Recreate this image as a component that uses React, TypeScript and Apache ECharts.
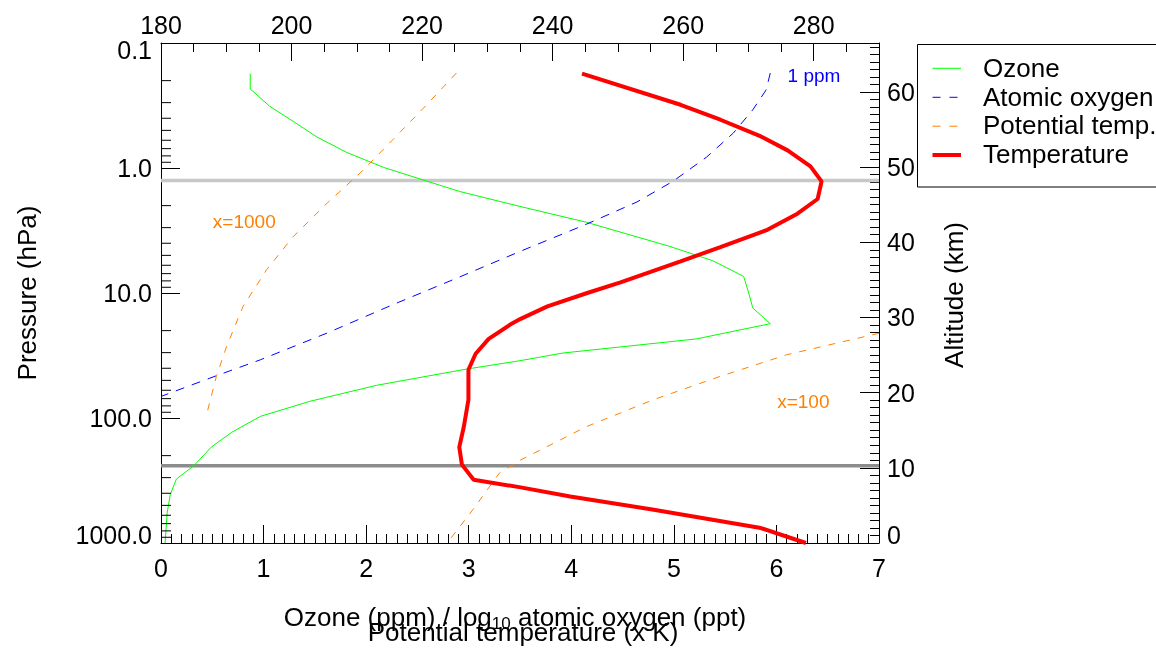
import React, { useEffect, useRef } from 'react';
import * as echarts from 'echarts';

const FONT = '"Liberation Sans", Arial, Helvetica, sans-serif';

// Ozone (ppm) vs pressure (hPa)
const ozonePressure = [0.176, 0.233, 0.321, 0.424, 0.565, 0.75, 0.989, 1.22, 1.54, 2.03, 2.72, 4.24, 5.52, 7.36, 10.0, 13.2, 17.6, 23.3, 30.2, 34.8, 40.6, 54.8, 73.6, 97.0, 130, 171, 241, 308, 411, 575, 1000];
const ozonePpm = [0.87, 0.87, 1.06, 1.29, 1.52, 1.81, 2.17, 2.52, 2.91, 3.5, 4.15, 4.96, 5.38, 5.68, 5.73, 5.77, 5.94, 5.22, 3.92, 3.5, 2.98, 2.1, 1.45, 0.97, 0.69, 0.49, 0.32, 0.15, 0.09, 0.06, 0.04];

// log10 atomic oxygen (ppt) vs pressure
const oxygenPressure = [0.174, 0.237, 0.342, 0.525, 0.817, 1.28, 1.87, 2.81, 4.65, 7.45, 12.4, 20.9, 34.2, 45.9, 67.2];
const oxygenLog = [5.94, 5.9, 5.77, 5.58, 5.32, 4.99, 4.64, 4.15, 3.5, 2.91, 2.26, 1.62, 0.97, 0.54, 0.0];

// Potential temperature / 1000 K (upper curve)
const theta1000Pressure = [0.174, 0.312, 0.594, 1.1, 1.91, 3.53, 6.51, 12.8, 26.7, 46.5, 97.0];
const theta1000Value = [2.88, 2.59, 2.26, 1.94, 1.62, 1.29, 1.03, 0.8, 0.64, 0.54, 0.44];

// Potential temperature / 100 K (lower curve)
const theta100Pressure = [21.0, 31.2, 46.5, 71.4, 117, 218, 275, 542, 1000];
const theta100Value = [7.0, 6.1, 5.45, 4.8, 4.15, 3.5, 3.3, 3.04, 2.79];

// Temperature (K) vs pressure
const tempPressure = [0.176, 0.312, 0.411, 0.559, 0.723, 0.97, 1.28, 1.77, 2.32, 3.12, 4.29, 5.59, 8.22, 10.0, 12.8, 16.1, 17.9, 23.3, 30.6, 41.1, 71.4, 117, 171, 236, 312, 359, 424, 542, 759, 1000];
const tempK = [244.5, 259.6, 265.7, 271.9, 276.0, 279.5, 281.2, 280.6, 277.5, 272.9, 265.7, 259.6, 250.4, 245.3, 239.2, 235.1, 233.5, 230.2, 228.2, 227.1, 227.1, 226.4, 225.7, 226.1, 227.9, 235.1, 242.7, 255.5, 271.9, 278.8];

// Reference levels (hPa): stratopause and tropopause
const stratopauseP = 1.26;
const tropopauseP = 241;

// Minor ticks for the log pressure axis
const logMinorTicks = [0.2, 0.3, 0.4, 0.5, 0.6, 0.7, 0.8, 0.9, 2, 3, 4, 5, 6, 7, 8, 9, 20, 30, 40, 50, 60, 70, 80, 90, 200, 300, 400, 500, 600, 700, 800, 900];

const legendItems = [
  { name: 'Ozone', color: '#00ff00', width: 1, dash: null as number[] | null },
  { name: 'Atomic oxygen', color: '#0000ff', width: 1, dash: [8, 9] },
  { name: 'Potential temp.', color: '#ff8000', width: 1, dash: [8, 9] },
  { name: 'Temperature', color: '#ff0000', width: 4, dash: null },
];

const zip = (xs: number[], ys: number[]) => xs.map((x, i) => [x, ys[i]]);

export default function App() {
  const ref = useRef<HTMLDivElement>(null);
  useEffect(() => {
    document.body.style.margin = '0';
    const chart = echarts.init(ref.current!, undefined, { renderer: 'svg' });
    const axisLineStyle = { color: '#000', width: 1 };
    const labelBase = { color: '#000', fontFamily: FONT, fontSize: 25 };
    const edgeRich = {
      t: { color: '#000', fontFamily: FONT, fontSize: 25, lineHeight: 14 },
      b: { color: '#000', fontFamily: FONT, fontSize: 25, lineHeight: 16 },
    };

    const legendGraphics: any[] = [
      {
        type: 'rect',
        shape: { x: 917.5, y: 44.5, width: 260, height: 142.5 },
        style: { fill: '#fff', stroke: '#000', lineWidth: 1 },
        z: 10,
      },
    ];
    const rowY = [68.3, 97.3, 126.2, 155];
    legendItems.forEach((it, i) => {
      legendGraphics.push({
        type: 'line',
        shape: { x1: 932.5, y1: rowY[i], x2: 961, y2: rowY[i] },
        style: { stroke: it.color, lineWidth: it.width, lineDash: it.dash || undefined },
        z: 11,
      });
      legendGraphics.push({
        type: 'text',
        x: 983,
        y: rowY[i] - 0.8,
        style: { text: it.name, fill: '#000', font: `26px ${FONT}`, align: 'left', verticalAlign: 'middle' },
        z: 11,
      });
    });

    const option: any = {
      animation: false,
      grid: { left: 161, top: 43, right: 277, bottom: 110, containLabel: false },
      xAxis: [
        {
          type: 'value',
          position: 'bottom',
          min: 0,
          max: 7,
          interval: 1,
          axisLine: { show: true, lineStyle: axisLineStyle },
          axisTick: { show: true, inside: true, length: 18, lineStyle: axisLineStyle },
          minorTick: { show: true, splitNumber: 10, length: 9, lineStyle: axisLineStyle },
          axisLabel: { ...labelBase, margin: 12 },
          splitLine: { show: false },
        },
        {
          type: 'value',
          position: 'top',
          min: 180,
          max: 290,
          interval: 20,
          axisLine: { show: true, lineStyle: axisLineStyle },
          axisTick: { show: true, inside: true, length: 18, lineStyle: axisLineStyle },
          minorTick: { show: true, splitNumber: 4, length: 9, lineStyle: axisLineStyle },
          axisLabel: { ...labelBase, margin: 6, showMaxLabel: false },
          splitLine: { show: false },
        },
      ],
      yAxis: [
        {
          type: 'log',
          logBase: 10,
          position: 'left',
          min: 0.1,
          max: 1000,
          inverse: true,
          axisLine: { show: true, lineStyle: axisLineStyle },
          axisTick: { show: true, inside: true, length: 19, lineStyle: axisLineStyle },
          axisLabel: {
            ...labelBase,
            margin: 9,
            rich: edgeRich,
            formatter: (v: number) => {
              const s = Number(v).toFixed(1);
              if (Math.abs(v - 0.1) < 1e-9) return `{t|${s}}`;
              if (Math.abs(v - 1000) < 1e-6) return `{b|${s}}`;
              return s;
            },
            verticalAlignMinLabel: 'top',
            verticalAlignMaxLabel: 'bottom',
          },
          splitLine: { show: false },
        },
        {
          type: 'value',
          position: 'right',
          min: 0,
          max: 66.5,
          interval: 10,
          axisLine: { show: true, lineStyle: axisLineStyle },
          axisTick: { show: true, inside: true, length: 19, lineStyle: axisLineStyle },
          minorTick: { show: true, splitNumber: 10, length: 9, lineStyle: axisLineStyle },
          axisLabel: {
            ...labelBase,
            margin: 8,
            showMaxLabel: false,
            rich: edgeRich,
            formatter: (v: number) => (v === 0 ? '{b|0}' : String(v)),
            verticalAlignMinLabel: 'bottom',
          },
          splitLine: { show: false },
        },
      ],
      series: [
        {
          type: 'line',
          name: 'stratopause',
          xAxisIndex: 0,
          yAxisIndex: 0,
          data: [[0, stratopauseP], [7, stratopauseP]],
          showSymbol: false,
          lineStyle: { color: '#c8c8c8', width: 3.5 },
          z: 1,
          silent: true,
        },
        {
          type: 'line',
          name: 'tropopause',
          xAxisIndex: 0,
          yAxisIndex: 0,
          data: [[0, tropopauseP], [7, tropopauseP]],
          showSymbol: false,
          lineStyle: { color: '#8c8c8c', width: 3.5 },
          z: 1,
          silent: true,
        },
        {
          type: 'line',
          name: 'Ozone',
          xAxisIndex: 0,
          yAxisIndex: 0,
          data: zip(ozonePpm, ozonePressure),
          showSymbol: false,
          lineStyle: { color: '#00ff00', width: 1 },
          z: 2,
        },
        {
          type: 'line',
          name: 'Atomic oxygen',
          xAxisIndex: 0,
          yAxisIndex: 0,
          data: zip(oxygenLog, oxygenPressure),
          showSymbol: false,
          lineStyle: { color: '#0000ff', width: 1, type: [9, 8] },
          z: 2,
        },
        {
          type: 'line',
          name: 'Potential temp. x1000',
          xAxisIndex: 0,
          yAxisIndex: 0,
          data: zip(theta1000Value, theta1000Pressure),
          showSymbol: false,
          lineStyle: { color: '#ff8000', width: 1, type: [7, 8] },
          z: 2,
        },
        {
          type: 'line',
          name: 'Potential temp. x100',
          xAxisIndex: 0,
          yAxisIndex: 0,
          data: zip(theta100Value, theta100Pressure),
          showSymbol: false,
          lineStyle: { color: '#ff8000', width: 1, type: [7, 8] },
          z: 2,
        },
        {
          type: 'line',
          name: 'Temperature',
          xAxisIndex: 1,
          yAxisIndex: 0,
          data: zip(tempK, tempPressure),
          showSymbol: false,
          lineStyle: { color: '#ff0000', width: 4 },
          z: 3,
        },
        {
          type: 'custom',
          name: 'logMinorTicks',
          xAxisIndex: 0,
          yAxisIndex: 0,
          silent: true,
          clip: false,
          data: logMinorTicks.map((p) => [0, p]),
          encode: { x: 0, y: 1 },
          renderItem: (_params: any, api: any) => {
            const pt = api.coord([api.value(0), api.value(1)]);
            return {
              type: 'line',
              shape: { x1: pt[0], y1: pt[1], x2: pt[0] + 10, y2: pt[1] },
              style: { stroke: '#000', lineWidth: 1 },
            };
          },
          z: 4,
        },
      ],
      graphic: [
        ...legendGraphics,
        {
          type: 'text',
          x: 814,
          y: 75,
          style: { text: '1 ppm', fill: '#0000ff', font: `19px ${FONT}`, align: 'center', verticalAlign: 'middle' },
          z: 12,
        },
        {
          type: 'text',
          x: 244.3,
          y: 221.5,
          style: { text: 'x=1000', fill: '#ff8000', font: `19px ${FONT}`, align: 'center', verticalAlign: 'middle' },
          z: 12,
        },
        {
          type: 'text',
          x: 803.3,
          y: 401,
          style: { text: 'x=100', fill: '#ff8000', font: `19px ${FONT}`, align: 'center', verticalAlign: 'middle' },
          z: 12,
        },
        {
          type: 'text',
          x: 27,
          y: 293,
          rotation: Math.PI / 2,
          style: { text: 'Pressure (hPa)', fill: '#000', font: `26px ${FONT}`, align: 'center', verticalAlign: 'middle' },
          z: 12,
        },
        {
          type: 'text',
          x: 954,
          y: 295,
          rotation: Math.PI / 2,
          style: { text: 'Altitude (km)', fill: '#000', font: `26px ${FONT}`, align: 'center', verticalAlign: 'middle' },
          z: 12,
        },
        {
          type: 'text',
          x: 515,
          y: 616.5,
          style: {
            text: '{a|Ozone (ppm) / log}{s|10}{a| atomic oxygen (ppt)}',
            align: 'center',
            verticalAlign: 'middle',
            rich: {
              a: { fontFamily: FONT, fontSize: 26, lineHeight: 30, fill: '#000', color: '#000' },
              s: { fontFamily: FONT, fontSize: 17, lineHeight: 17, verticalAlign: 'bottom', fill: '#000', color: '#000' },
            },
          },
          z: 12,
        },
        {
          type: 'text',
          x: 523,
          y: 632,
          style: { text: 'Potential temperature (x K)', fill: '#000', font: `26px ${FONT}`, align: 'center', verticalAlign: 'middle' },
          z: 12,
        },
      ],
    };
    chart.setOption(option);
    return () => chart.dispose();
  }, []);
  return <div ref={ref} style={{ position: 'fixed', left: 0, top: 0, width: 1156, height: 653 }} />;
}
